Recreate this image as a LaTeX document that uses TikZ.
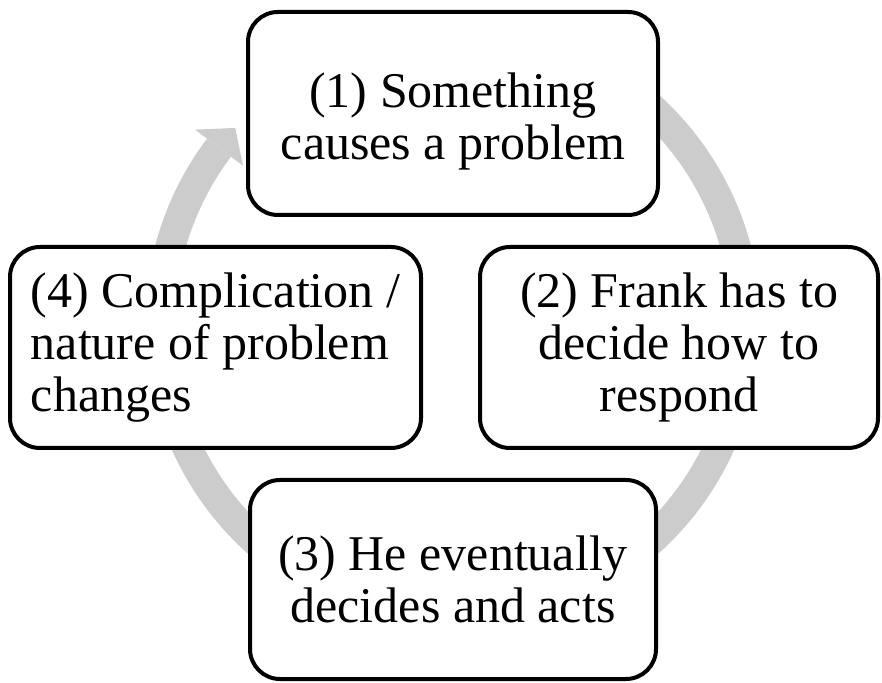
\documentclass[tikz,border=0pt]{standalone}
\usepackage{fontspec}
\setmainfont{Liberation Serif}
\usepackage{tikz}
\usetikzlibrary{positioning}
\definecolor{ringgray}{RGB}{204,204,204}

\begin{document}
\begin{tikzpicture}[x=1pt,y=1pt,on grid,
    stage/.style={rectangle,rounded corners=30pt,draw,line width=4pt,fill=white,
      minimum width=410pt,minimum height=201pt,inner sep=0pt,align=center,
      font=\fontsize{50}{52}\selectfont}]
    \useasboundingbox (0,0) rectangle (882,682);
    \coordinate (c) at (453,358);
    % grey ring and its head, under the boxes
    \draw[ringgray,line width=30pt] ([shift={(70:293pt)}]c) arc[start angle=70,end angle=-217,radius=293pt];
    \fill[ringgray] ([shift={(143:323pt)}]c) -- ([shift={(138:293pt)}]c) -- ([shift={(143:263pt)}]c) -- cycle;
    \node[stage,minimum height=203pt] (1) at (453,568.5) {\rule{0pt}{50pt}(1) Something\\causes a problem};
    \node[stage,minimum width=398pt] (2) [below right=234pt and 226pt of 1] {(2) Frank has to\\decide how to\\respond};
    \node[stage,minimum width=406pt,minimum height=199pt] (3) [below=466pt of 1] {(3) He eventually\\decides and acts};
    \node[stage,minimum width=411pt,align=left] (4) [below left=234pt and 237.5pt of 1] {(4) Complication /\\nature of problem\\changes};
\end{tikzpicture}
\end{document}
